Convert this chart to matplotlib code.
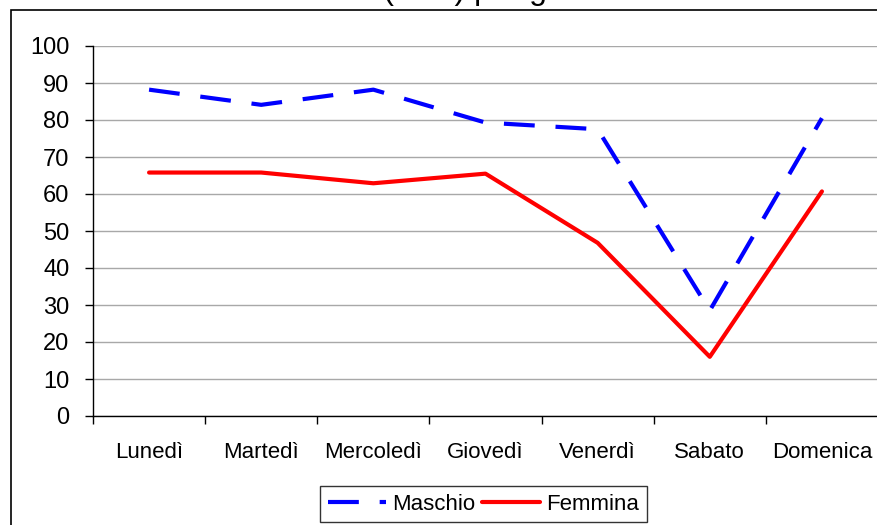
import matplotlib
matplotlib.use("Agg")
import matplotlib.pyplot as plt
from matplotlib.patches import Rectangle

plt.rcParams['font.family'] = ['Liberation Sans', 'DejaVu Sans']

giorni = ["Lunedì", "Martedì", "Mercoledì", "Giovedì", "Venerdì", "Sabato", "Domenica"]
maschio = [88.2, 84.1, 88.2, 79.3, 77.5, 28.5, 80.5]
femmina = [65.8, 65.8, 62.9, 65.5, 46.8, 16.0, 60.7]
y_ticks = [0, 10, 20, 30, 40, 50, 60, 70, 80, 90, 100]
titolo = "Durata media (min.) per giorno"

W, H = 877, 525
fig = plt.figure(figsize=(W / 100, H / 100), dpi=100)

# outer chart frame (cut by the image edges)
fig.patches.append(Rectangle((11 / W, -0.2), 2, 1.2 - 10 / H, transform=fig.transFigure,
                             fill=False, edgecolor='black', lw=1.2))
# title: only its descenders fall inside the picture, as in the reference
fig.text(182 / W, 1 + 0.5 / H, titolo, ha='left', va='baseline', fontsize=23,
         transform=fig.transFigure)

ax = fig.add_axes([93 / W, (H - 416) / H, 785 / W, 370 / H])
x = list(range(len(giorni)))
l1, = ax.plot(x, maschio, color='#0000FF', lw=3, label='Maschio')
l1.set_dashes((7.4, 5.0))
l2, = ax.plot(x, femmina, color='#FF0000', lw=3, label='Femmina', solid_capstyle='round')

ax.set_xlim(-0.5, len(giorni) - 0.5)
ax.set_ylim(0, 100)
ax.set_yticks(y_ticks)
ax.yaxis.grid(True, color='#a8a8a8', lw=1.0)
ax.set_axisbelow(True)
ax.set_xticks([i - 0.5 for i in range(len(giorni))] + [len(giorni) - 0.5])
ax.set_xticklabels([])
ax.set_xticks(x, minor=True)
ax.set_xticklabels(giorni, minor=True)
ax.tick_params(axis='x', which='major', direction='out', length=6, width=1, color='black')
ax.tick_params(axis='x', which='minor', length=0, pad=19, labelsize=16)
ax.tick_params(axis='y', direction='out', length=6, width=1, pad=11, labelsize=17)
for s in ['top', 'right']:
    ax.spines[s].set_visible(False)
for s in ['left', 'bottom']:
    ax.spines[s].set_color('black')
    ax.spines[s].set_linewidth(1.0)

leg = fig.legend(handles=[l1, l2], loc='center', bbox_to_anchor=(483.5 / W, (H - 504) / H),
                 ncol=2, fontsize=16, frameon=True, fancybox=False, handlelength=2.6,
                 handletextpad=0.3, columnspacing=0.3, borderpad=0.35)
leg.get_frame().set_edgecolor('black')
leg.get_frame().set_linewidth(1.0)

fig.savefig("out.png", dpi=100)
